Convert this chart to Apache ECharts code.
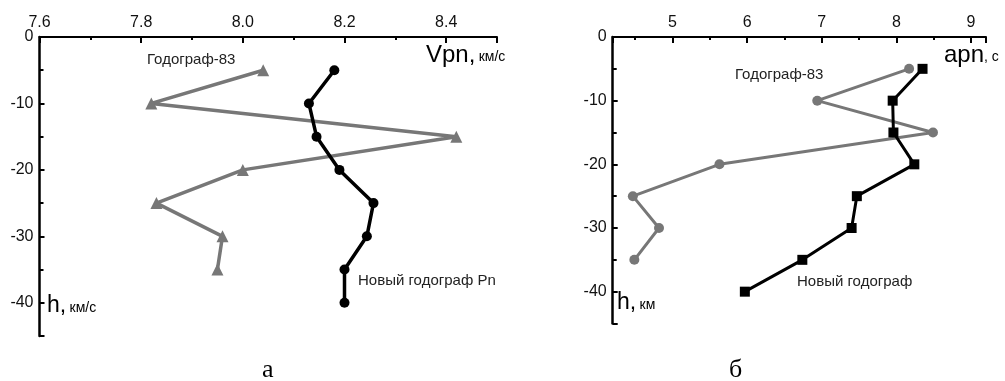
<!DOCTYPE html>
<html>
<head>
<meta charset="utf-8">
<script src="https://cdn.jsdelivr.net/npm/echarts@6/dist/echarts.min.js"></script>
<style>
  html, body { margin: 0; padding: 0; background: #fff; }
  #main { width: 1005px; height: 381px; }
</style>
</head>
<body>
<div id="main"></div>
<script>
// глубины, км
var depthOld = [-5, -10, -15, -20, -25, -30, -35];
var depthNew = [-5, -10, -15, -20, -25, -30, -35, -40];

// Vpn, км/с
var vpnOld = [8.04, 7.82, 8.42, 8.00, 7.83, 7.96, 7.95];
var vpnNew = [8.18, 8.13, 8.145, 8.19, 8.257, 8.244, 8.20, 8.20];

// apn, с
var apnOld = [8.17, 6.94, 8.49, 5.63, 4.47, 4.82, 4.49];
var apnNew = [8.35, 7.95, 7.96, 8.24, 7.47, 7.40, 6.74, 5.97];

var myChart = echarts.init(document.getElementById('main'));

function pairs(xs, ys) {
    return xs.map(function (x, i) { return [x, ys[i]]; });
}

var font = 'Liberation Sans, Arial, sans-serif';
var GRAY = '#777';

// общие настройки осей
function xAxisCfg(idx, min, max) {
    return {
        type: 'value', gridIndex: idx, position: 'top',
        min: min, max: max, splitNumber: 5,
        axisLine: { lineStyle: { color: '#000', width: 2 } },
        axisTick: { inside: true, length: 6, lineStyle: { color: '#000', width: 2 } },
        minorTick: { show: true, splitNumber: 2, length: 3, lineStyle: { color: '#000', width: 2 } },
        axisLabel: { color: '#111', fontSize: 16, fontFamily: font, margin: 6, showMinLabel: idx === 0, showMaxLabel: false,
            formatter: function (v) { return idx === 0 ? v.toFixed(1) : String(v); } },
        splitLine: { show: false }
    };
}
function yAxisCfg(idx) {
    return {
        type: 'value', gridIndex: idx,
        min: -45, max: 0, splitNumber: 5,
        axisLine: { lineStyle: { color: '#000', width: 2.5 } },
        axisTick: { inside: true, length: 5, lineStyle: { color: '#000', width: 2 } },
        minorTick: { show: true, splitNumber: 2, length: 4, lineStyle: { color: '#000', width: 2 } },
        axisLabel: { color: '#111', fontSize: 16, fontFamily: font, margin: 6, showMinLabel: false },
        splitLine: { show: false }
    };
}

var option = {
    animation: false,
    backgroundColor: '#fff',
    grid: [
        { left: 39.5, top: 37, width: 457.5, height: 299 },
        { left: 612.7, top: 37, width: 373.3, height: 286.5 }
    ],
    xAxis: [xAxisCfg(0, 7.6, 8.5), xAxisCfg(1, 4.2, 9.2)],
    yAxis: [yAxisCfg(0), yAxisCfg(1)],
    series: [
        {
            name: 'Годограф-83', type: 'line', xAxisIndex: 0, yAxisIndex: 0,
            data: pairs(vpnOld, depthOld),
            symbol: 'triangle', symbolSize: 12,
            lineStyle: { color: GRAY, width: 3.5 }, itemStyle: { color: GRAY }
        },
        {
            name: 'Новый годограф Pn', type: 'line', xAxisIndex: 0, yAxisIndex: 0,
            data: pairs(vpnNew, depthNew),
            symbol: 'circle', symbolSize: 10,
            lineStyle: { color: '#000', width: 3.5 }, itemStyle: { color: '#000' }
        },
        {
            name: 'Годограф-83 (apn)', type: 'line', xAxisIndex: 1, yAxisIndex: 1,
            data: pairs(apnOld, depthOld),
            symbol: 'circle', symbolSize: 10,
            lineStyle: { color: GRAY, width: 3 }, itemStyle: { color: GRAY }
        },
        {
            name: 'Новый годограф', type: 'line', xAxisIndex: 1, yAxisIndex: 1,
            data: pairs(apnNew, depthNew),
            symbol: 'rect', symbolSize: 10,
            lineStyle: { color: '#000', width: 3 }, itemStyle: { color: '#000' }
        }
    ],
    graphic: [
        // подписи кривых
        { type: 'text', left: 147, top: 52, style: { text: 'Годограф-83', font: '15px ' + font, fill: '#222' } },
        { type: 'text', left: 358, top: 273, style: { text: 'Новый годограф Pn', font: '15px ' + font, fill: '#222' } },
        { type: 'text', left: 735, top: 67, style: { text: 'Годограф-83', font: '15px ' + font, fill: '#222' } },
        { type: 'text', left: 797, top: 274, style: { text: 'Новый годограф', font: '15px ' + font, fill: '#222' } },
        // названия осей
        { type: 'text', left: 426, top: 43, style: { text: '{b|Vpn,} {s|км/с}', fill: '#000',
            rich: { b: { fontSize: 24, fontFamily: font }, s: { fontSize: 14, fontFamily: font, padding: [5, 0, 0, 0] } } } },
        { type: 'text', left: 944, top: 43, style: { text: '{b|apn}{s|, c}', fill: '#000',
            rich: { b: { fontSize: 24, fontFamily: font }, s: { fontSize: 14, fontFamily: font, padding: [5, 0, 0, 0] } } } },
        { type: 'text', left: 47, top: 294, style: { text: '{b|h,} {s|км/с}', fill: '#000',
            rich: { b: { fontSize: 23, fontFamily: font }, s: { fontSize: 14, fontFamily: font, padding: [5, 0, 0, 0] } } } },
        { type: 'text', left: 617, top: 291, style: { text: '{b|h,} {s|км}', fill: '#000',
            rich: { b: { fontSize: 23, fontFamily: font }, s: { fontSize: 14, fontFamily: font, padding: [5, 0, 0, 0] } } } },
        // буквы панелей
        { type: 'text', left: 262, top: 357, style: { text: 'а', font: '26px Liberation Serif, serif', fill: '#000' } },
        { type: 'text', left: 729, top: 357, style: { text: 'б', font: '26px Liberation Serif, serif', fill: '#000' } }
    ]
};

myChart.setOption(option);
</script>
</body>
</html>
